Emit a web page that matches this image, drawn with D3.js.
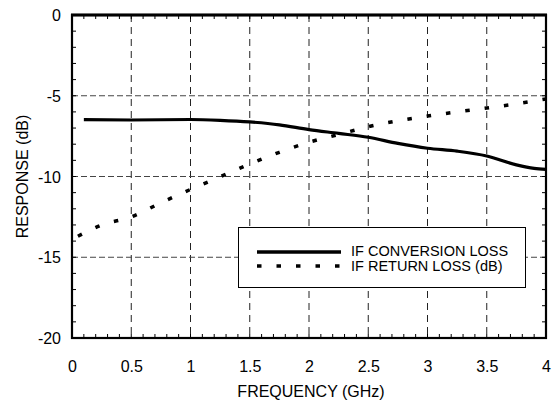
<!DOCTYPE html>
<html><head><meta charset="utf-8">
<script src="https://cdn.jsdelivr.net/npm/d3@7"></script>
<style>
html,body{margin:0;padding:0;background:#fff;}
text{font-family:"Liberation Sans",Arial,Helvetica,sans-serif;fill:#000;}
</style></head>
<body><svg id="c" width="554" height="400"></svg>
<script>
// Data
const convFreq = [0.1,0.5,1.0,1.25,1.5,1.75,2.0,2.25,2.5,2.75,3.0,3.25,3.5,3.75,3.9,4.0];
const convLoss = [-6.48,-6.5,-6.47,-6.52,-6.62,-6.8,-7.1,-7.33,-7.57,-7.95,-8.25,-8.43,-8.73,-9.28,-9.5,-9.56];
const retFreq = [0.05,0.25,0.5,0.75,1.0,1.25,1.5,1.75,2.0,2.25,2.5,2.75,3.0,3.25,3.5,3.75,4.0];
const retLoss = [-13.7,-13.0,-12.5,-11.63,-10.8,-10.02,-9.23,-8.5,-7.88,-7.4,-6.92,-6.55,-6.26,-6.0,-5.76,-5.5,-5.2];
const xTicks = [0,0.5,1,1.5,2,2.5,3,3.5,4];
const yTicks = [0,-5,-10,-15,-20];
const legendLabels = ["IF CONVERSION LOSS","IF RETURN LOSS (dB)"];

const svg = d3.select("#c");
const L=72, R=546, T=15, B=338;
const x = d3.scaleLinear().domain([0,4]).range([L,R]);
const y = d3.scaleLinear().domain([-20,0]).range([B,T]);

// grid
const g = svg.append("g");
g.selectAll(".vg").data(xTicks.slice(1,-1)).enter().append("line")
 .attr("x1",d=>x(d)).attr("x2",d=>x(d)).attr("y1",T).attr("y2",B)
 .attr("stroke","#222").attr("stroke-width",1).attr("stroke-dasharray","7,5");
g.selectAll(".hg").data(yTicks.slice(1,-1)).enter().append("line")
 .attr("y1",d=>y(d)).attr("y2",d=>y(d)).attr("x1",L).attr("x2",R)
 .attr("stroke","#444").attr("stroke-width",1).attr("stroke-dasharray","6,3");

// minor ticks
const xMinor = d3.range(0,40.01,1).map(v=>v/10);
const yMinor = d3.range(-20,0.01,1);
g.selectAll(".xmb").data(xMinor).enter().append("line")
 .attr("x1",d=>x(d)).attr("x2",d=>x(d)).attr("y1",B).attr("y2",B-4).attr("stroke","#000");
g.selectAll(".xmt").data(xMinor).enter().append("line")
 .attr("x1",d=>x(d)).attr("x2",d=>x(d)).attr("y1",T).attr("y2",T+4).attr("stroke","#000");
g.selectAll(".yml").data(yMinor).enter().append("line")
 .attr("y1",d=>y(d)).attr("y2",d=>y(d)).attr("x1",L).attr("x2",L+4).attr("stroke","#000");
g.selectAll(".ymr").data(yMinor).enter().append("line")
 .attr("y1",d=>y(d)).attr("y2",d=>y(d)).attr("x1",R).attr("x2",R-4).attr("stroke","#000");

// axes labels via d3 axes
const fmt = d => String(d);
const xAxis = d3.axisBottom(x).tickValues(xTicks).tickSize(0).tickPadding(0).tickFormat(fmt);
const ax = svg.append("g").attr("transform",`translate(0,${B})`).call(xAxis);
ax.select(".domain").remove();
ax.selectAll("text").attr("y",34).attr("dy",0).style("font-size","16px")
  .style("font-family","Liberation Sans, Arial, sans-serif").attr("fill","#000");
const yAxis = d3.axisLeft(y).tickValues(yTicks).tickSize(0).tickPadding(11).tickFormat(fmt);
const ay = svg.append("g").attr("transform",`translate(${L},0)`).call(yAxis);
ay.select(".domain").remove();
ay.selectAll("text").style("font-size","16px").attr("dy","0.35em")
  .style("font-family","Liberation Sans, Arial, sans-serif").attr("fill","#000");

// lines
const line = d3.line().x(d=>x(d[0])).y(d=>y(d[1])).curve(d3.curveMonotoneX);
svg.append("path").datum(retFreq.map((f,i)=>[f,retLoss[i]]))
 .attr("d",line).attr("fill","none").attr("stroke","#000").attr("stroke-width",3.5)
 .attr("stroke-dasharray","4.5,15");
svg.append("path").datum(convFreq.map((f,i)=>[f,convLoss[i]]))
 .attr("d",line).attr("fill","none").attr("stroke","#000").attr("stroke-width",3.2);

// legend
const lg = svg.append("g");
lg.append("rect").attr("x",238.5).attr("y",227.5).attr("width",287).attr("height",60)
 .attr("fill","#fff").attr("stroke","#000").attr("stroke-width",1);
lg.append("line").attr("x1",257).attr("x2",341).attr("y1",252).attr("y2",252)
 .attr("stroke","#000").attr("stroke-width",3.5);
lg.append("line").attr("x1",257).attr("x2",341).attr("y1",266).attr("y2",266)
 .attr("stroke","#000").attr("stroke-width",3.5).attr("stroke-dasharray","4.5,15");
lg.selectAll("text").data(legendLabels).enter().append("text")
 .attr("x",351).attr("y",(d,i)=>256+i*15).style("font-size","14.5px").text(d=>d);

// frame
svg.append("rect").attr("x",L).attr("y",T).attr("width",R-L).attr("height",B-T)
 .attr("fill","none").attr("stroke","#000").attr("stroke-width",2.2);
svg.append("line").attr("x1",L-1).attr("x2",R+1).attr("y1",T).attr("y2",T)
 .attr("stroke","#000").attr("stroke-width",3);

// titles
svg.append("text").attr("x",(L+R)/2+2).attr("y",397).attr("text-anchor","middle")
 .style("font-size","16px").text("FREQUENCY (GHz)");
svg.append("text").attr("transform",`translate(28,${(T+B)/2}) rotate(-90)`)
 .attr("text-anchor","middle").style("font-size","16px").text("RESPONSE (dB)");
</script></body></html>
